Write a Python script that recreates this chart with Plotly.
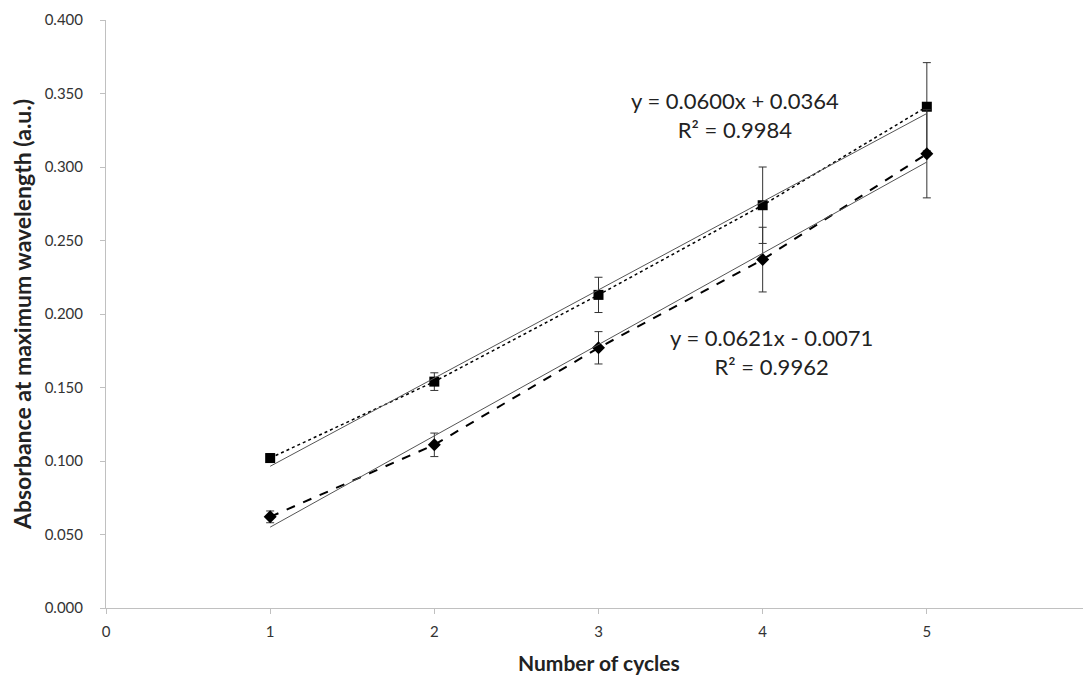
import plotly.graph_objects as go

cycles = [1, 2, 3, 4, 5]

# squares series
abs_sq = [0.102, 0.154, 0.213, 0.274, 0.341]
err_sq = [0.003, 0.006, 0.012, 0.026, 0.030]

# diamonds series
abs_dm = [0.062, 0.111, 0.177, 0.237, 0.309]
err_dm = [0.004, 0.008, 0.011, 0.022, 0.030]

# linear trendlines (slope, intercept) as printed on the chart
fit_sq = (0.0600, 0.0364)
fit_dm = (0.0621, -0.0071)
eq_sq = ["y = 0.0600x + 0.0364", "R² = 0.9984"]
eq_dm = ["y = 0.0621x - 0.0071", "R² = 0.9962"]

font = "Lato, 'Open Sans', sans-serif"

fig = go.Figure()

fig.add_trace(go.Scatter(
    x=cycles, y=abs_sq, mode="lines+markers", name="sq",
    line=dict(color="black", width=1.5, dash="dot"),
    marker=dict(symbol="square", size=10, color="black"),
    error_y=dict(type="data", array=err_sq, color="#333333", thickness=1, width=4),
))
fig.add_trace(go.Scatter(
    x=cycles, y=abs_dm, mode="lines+markers", name="dm",
    line=dict(color="black", width=2, dash="dash"),
    marker=dict(symbol="diamond", size=10, color="black"),
    error_y=dict(type="data", array=err_dm, color="#333333", thickness=1, width=4),
))

for slope, icpt in (fit_sq, fit_dm):
    xs = [cycles[0], cycles[-1]]
    fig.add_trace(go.Scatter(
        x=xs, y=[slope * v + icpt for v in xs], mode="lines",
        line=dict(color="#555555", width=1), hoverinfo="skip",
    ))

fig.add_annotation(x=3.834, y=0.3354, text="<br>".join(eq_sq), showarrow=False,
                   font=dict(size=22, color="#222222", family=font), align="center")
fig.add_annotation(x=4.053, y=0.1741, text="<br>".join(eq_dm), showarrow=False,
                   font=dict(size=22, color="#222222", family=font), align="center")

# x axis title, placed by hand a little lower than plotly puts it
fig.add_annotation(x=0.5, y=0, xref="paper", yref="paper", yanchor="middle", yshift=-54,
                   text="<b>Number of cycles</b>", showarrow=False,
                   font=dict(size=21, color="#222222", family=font))

axis_common = dict(
    showgrid=False, zeroline=False, showline=True, linecolor="#c0c0c0", linewidth=1,
    ticks="outside", ticklen=5, tickcolor="#c0c0c0", automargin=False,
    tickfont=dict(size=15, color="#333333", family=font),
)

fig.update_xaxes(range=[0, 6], dtick=1, tickformat="d", ticklabelstandoff=5,
                 **axis_common)
fig.update_yaxes(range=[0, 0.4], dtick=0.05, tickformat=".3f", ticklabelstandoff=14,
                 title=dict(text="<b>Absorbance at maximum wavelength (a.u.)</b>", standoff=12,
                            font=dict(size=23, color="#222222", family=font)),
                 **axis_common)

# page body adds an 8px offset, so the figure is sized to fit inside it
fig.update_layout(
    width=1083, height=667,
    margin=dict(l=98, r=0, t=12, b=67),
    plot_bgcolor="white", paper_bgcolor="white",
    showlegend=False,
    font=dict(family=font),
)

fig.write_html("out.html")
